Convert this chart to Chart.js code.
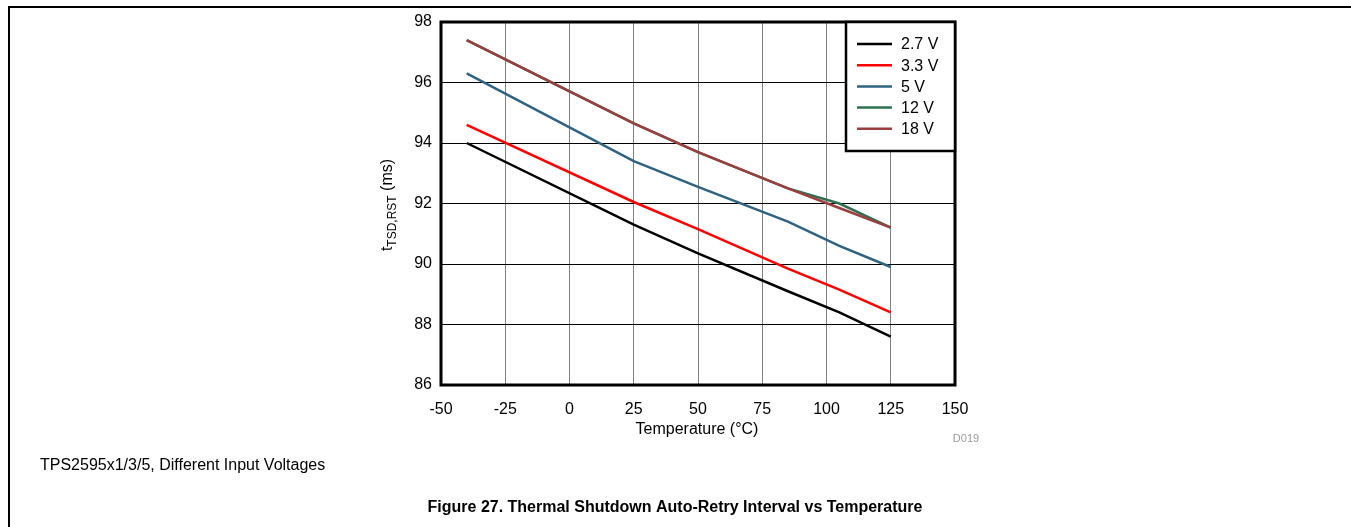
<!DOCTYPE html>
<html>
<head>
<meta charset="utf-8">
<script src="https://cdn.jsdelivr.net/npm/chart.js@4"></script>
<style>
  html, body { margin: 0; padding: 0; background: #fff; }
  #wrap { position: relative; width: 1351px; height: 527px; }
</style>
</head>
<body>
<div id="wrap"><canvas id="myChart" width="1351" height="527"></canvas></div>
<script>
// temperature points (°C)
const temps = [-40, 25, 50, 85, 105, 125];

// auto-retry interval (ms) per input voltage
const v27 = [94.0, 91.3, 90.35, 89.1, 88.4, 87.6];
const v33 = [94.6, 92.05, 91.15, 89.85, 89.15, 88.4];
const v5 = [96.3, 93.4, 92.55, 91.4, 90.6, 89.9];
const v12 = [97.4, 94.65, 93.7, 92.5, 92.0, 91.2];
const v18 = [97.4, 94.65, 93.7, 92.5, 91.85, 91.2];

const seriesLabels = ['2.7 V', '3.3 V', '5 V', '12 V', '18 V'];
const seriesColors = ['#000000', '#ff0000', '#2f6381', '#2f7150', '#9a3f3f'];
const seriesData = [v27, v33, v5, v12, v18];

const xTicks = [-50, -25, 0, 25, 50, 75, 100, 125, 150];
const yTicks = [86, 88, 90, 92, 94, 96, 98];

const FONT = '"Liberation Sans", Arial, sans-serif';

const toPoints = (vals) => vals.map((v, i) => ({ x: temps[i], y: v }));

// page decorations, y-axis title with subscript, legend box
const decor = {
    id: 'decor',
    beforeDraw(chart) {
        const c = chart.ctx;
        c.save();
        c.fillStyle = '#fff';
        c.fillRect(0, 0, chart.width, chart.height);
        c.strokeStyle = '#000';
        c.lineWidth = 2;
        c.beginPath();
        c.moveTo(8, 7);
        c.lineTo(chart.width, 7);
        c.moveTo(9, 6);
        c.lineTo(9, chart.height);
        c.stroke();
        c.restore();
    },
    afterDraw(chart) {
        const c = chart.ctx;
        const a = chart.chartArea;
        c.save();

        // plot frame
        c.strokeStyle = '#000';
        c.lineWidth = 3;
        c.strokeRect(a.left, a.top, a.right - a.left, a.bottom - a.top);

        // legend box
        const lx = 846, ly = a.top, lw = a.right - lx, lh = 151 - a.top;
        c.fillStyle = '#fff';
        c.fillRect(lx, ly, lw, lh);
        c.lineWidth = 2.5;
        c.strokeRect(lx, ly, lw, lh);
        c.font = '16px ' + FONT;
        c.textBaseline = 'middle';
        c.textAlign = 'left';
        seriesLabels.forEach((lab, i) => {
            const yy = 44 + i * 21.2;
            c.strokeStyle = seriesColors[i];
            c.lineWidth = 2.5;
            c.beginPath();
            c.moveTo(857, yy);
            c.lineTo(892, yy);
            c.stroke();
            c.fillStyle = '#000';
            c.fillText(lab, 901, yy + 1);
        });

        // y-axis title: t_TSD,RST (ms)
        c.translate(386, 205);
        c.rotate(-Math.PI / 2);
        c.fillStyle = '#000';
        c.textBaseline = 'alphabetic';
        const p1 = 't', p2 = 'TSD,RST', p3 = ' (ms)';
        c.font = '16px ' + FONT;
        const w1 = c.measureText(p1).width;
        const w3 = c.measureText(p3).width;
        c.font = '12px ' + FONT;
        const w2 = c.measureText(p2).width;
        const x0 = -(w1 + w2 + w3) / 2;
        c.font = '16px ' + FONT;
        c.fillText(p1, x0, 6);
        c.font = '12px ' + FONT;
        c.fillText(p2, x0 + w1, 10);
        c.font = '16px ' + FONT;
        c.fillText(p3, x0 + w1 + w2, 6);
        c.restore();

        // other texts
        c.save();
        c.fillStyle = '#000';
        c.textBaseline = 'middle';
        c.textAlign = 'center';
        c.font = '16px ' + FONT;
        c.fillText('Temperature (\u00B0C)', 697, 430);
        c.fillStyle = '#999';
        c.font = '11px ' + FONT;
        c.fillText('D019', 966, 439);
        c.fillStyle = '#000';
        c.textAlign = 'left';
        c.font = '16px ' + FONT;
        c.fillText('TPS2595x1/3/5, Different Input Voltages', 40, 466);
        c.textAlign = 'center';
        c.font = 'bold 16px ' + FONT;
        c.fillText('Figure 27. Thermal Shutdown Auto-Retry Interval vs Temperature', 675, 508);
        c.restore();
    }
};

const ctx = document.getElementById('myChart').getContext('2d');

const myChart = new Chart(ctx, {
    type: 'line',
    data: {
        datasets: seriesData.map((vals, i) => ({
            label: seriesLabels[i],
            data: toPoints(vals),
            borderColor: seriesColors[i],
            backgroundColor: seriesColors[i],
            borderWidth: 2.5,
            pointRadius: 0,
            tension: 0,
            fill: false
        })).reverse()
    },
    options: {
        responsive: false,
        animation: false,
        events: [],
        layout: { padding: { top: 22, right: 396, left: 0, bottom: 0 } },
        plugins: {
            legend: { display: false },
            tooltip: { enabled: false }
        },
        scales: {
            x: {
                type: 'linear',
                min: -50,
                max: 150,
                afterBuildTicks: (s) => { s.ticks = xTicks.map(v => ({ value: v })); },
                afterFit: (s) => { s.height = 142; },
                ticks: {
                    color: '#000',
                    font: { family: FONT, size: 16 },
                    padding: 15,
                    maxRotation: 0
                },
                grid: { color: '#808080', lineWidth: 1, drawTicks: false },
                border: { display: false }
            },
            y: {
                type: 'linear',
                min: 86,
                max: 98,
                afterBuildTicks: (s) => { s.ticks = yTicks.map(v => ({ value: v })); },
                afterFit: (s) => { s.width = 441; },
                ticks: {
                    color: '#000',
                    font: { family: FONT, size: 16 },
                    padding: 9
                },
                grid: { color: '#000', lineWidth: 1, drawTicks: false },
                border: { display: false }
            }
        }
    },
    plugins: [decor]
});
</script>
</body>
</html>
